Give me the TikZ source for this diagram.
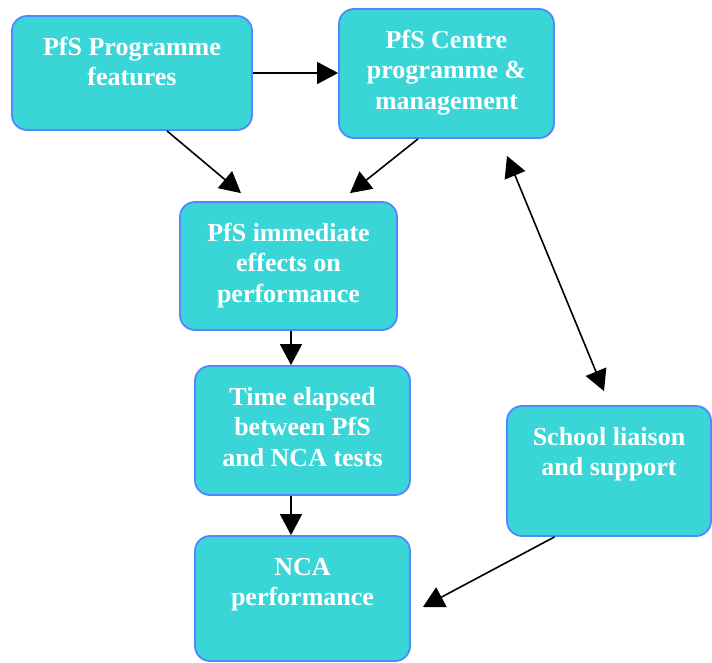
\documentclass[tikz,border=0pt]{standalone}
\usepackage{fontspec}
\setmainfont{Liberation Serif}
\usepackage{tikz}
\usetikzlibrary{arrows.meta}
\definecolor{box_fill}{RGB}{58,213,215}
\definecolor{box_line}{RGB}{80,134,255}
\newcommand{\celltext}[3]{\parbox[c][#2pt][t]{#1pt}{\centering\rule{0pt}{39pt}#3}}
\tikzset{
    flowbox/.style={draw=box_line,fill=box_fill,line width=1.8pt,rounded corners=15pt,
        inner sep=0pt,text=white,font=\fontsize{26pt}{30.5pt}\selectfont\bfseries},
    flowarrow/.style={-{Triangle[length=21pt,width=22pt]},line width=1.6pt},
    flowarrow_both/.style={{Triangle[length=21pt,width=22pt]}-{Triangle[length=21pt,width=22pt]},line width=1.6pt},
}
\begin{document}
\begin{tikzpicture}[x=1pt,y=-1pt]
  \useasboundingbox (0,0) rectangle (712,662);
  % Draw boxes
  \node[flowbox] (feat) at (132,73) {\celltext{240}{114}{PfS Programme\\features}};
  \node[flowbox] (centre) at (446.5,73.5) {\celltext{215}{129}{PfS Centre\\programme \&\\management}};
  \node[flowbox] (effects) at (288.5,266) {\celltext{217}{128}{PfS immediate\\effects on\\performance}};
  \node[flowbox] (elapsed) at (302.5,430.5) {\celltext{215}{129}{Time elapsed\\between PfS\\and NCA tests}};
  \node[flowbox] (liaison) at (609,471) {\celltext{204}{130}{School liaison\\and support}};
  \node[flowbox] (nca) at (302.5,598.5) {\celltext{215}{125}{NCA\\performance}};
  % Free arrow ends
  \coordinate (featTip) at ([xshift=-47.5pt,yshift=8pt]effects.north);
  \coordinate (centreTip) at ([xshift=61.5pt,yshift=8pt]effects.north);
  \coordinate (linkTop) at ([xshift=60.5pt,yshift=-17pt]centre.south);
  \coordinate (linkBot) at ([xshift=-5pt,yshift=14pt]liaison.north);
  \coordinate (ncaTip) at ([xshift=12pt,yshift=-8.5pt]nca.east);
  % Draw arrows
  \draw[flowarrow] (feat.east) -- (feat.east -| centre.west);
  \draw[flowarrow] ([xshift=35pt]feat.south) -- (featTip);
  \draw[flowarrow] ([xshift=-28.5pt]centre.south) -- (centreTip);
  \draw[flowarrow] ([xshift=2.5pt]effects.south) -- ([xshift=-11.5pt]elapsed.north);
  \draw[flowarrow] ([xshift=-11.5pt]elapsed.south) -- ([xshift=-11.5pt]nca.north);
  \draw[flowarrow_both] (linkTop) -- (linkBot);
  \draw[flowarrow] ([xshift=-54.5pt]liaison.south) -- (ncaTip);
\end{tikzpicture}
\end{document}
